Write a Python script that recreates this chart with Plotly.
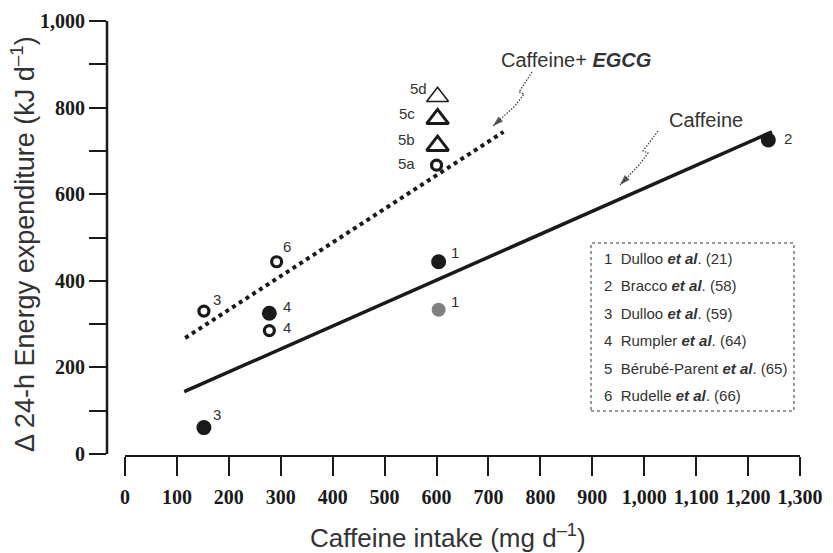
import plotly.graph_objects as go

# ---------------- data ----------------
# Caffeine alone (filled black circles)
caf_study = ['1', '2', '3', '4']
caf_x = [604, 1239, 152, 278]
caf_y = [444, 725, 61, 325]

# Study 1, second value (grey circle)
grey_study = ['1']
grey_x = [604]
grey_y = [333]

# Caffeine + EGCG (open circles)
egcg_study = ['3', '4', '6', '5a']
egcg_x = [152, 278, 292, 600]
egcg_y = [330, 285, 444, 667]

# Caffeine + EGCG, study 5 dose steps (open triangles)
tri_study = ['5b', '5c', '5d']
tri_x = [602, 602, 602]
tri_y = [712, 774, 825]

# Regression lines
caf_fit_x = [114, 1246]
caf_fit_y = [144, 744]
egcg_fit_x = [116, 729]
egcg_fit_y = [268, 744]

# Axis ticks
x_ticks = list(range(0, 1301, 100))
y_ticks = list(range(0, 1001, 200))
y_minor = list(range(100, 1000, 200))

# Legend box contents
study_nums = ['1', '2', '3', '4', '5', '6']
study_authors = ['Dulloo', 'Bracco', 'Dulloo', 'Rumpler', 'Bérubé-Parent', 'Rudelle']
study_refs = ['21', '58', '59', '64', '65', '66']

# ---------------- layout geometry ----------------
W, H = 833, 553
ML, MR, MT, MB = 107, 28, 18, 97
PW, PH = W - ML - MR, H - MT - MB
XR = [-34.67, -34.67 + PW / 0.51923]
YR = [1000 + 3 / 0.433 - PH / 0.433, 1000 + 3 / 0.433]


def px2x(p):
    return XR[0] + (p - ML) / PW * (XR[1] - XR[0])


def py2y(p):
    return YR[1] - (p - MT) / PH * (YR[1] - YR[0])


def ppx(p):
    return (p - ML) / PW


def ppy(p):
    return (MT + PH - p) / PH


INK = '#1a1a1a'
TXT = '#333333'
SANS = 'Liberation Sans, Arial, sans-serif'
SERIF = 'Liberation Serif, Times New Roman, serif'

fig = go.Figure()

# regression lines
fig.add_trace(go.Scatter(x=caf_fit_x, y=caf_fit_y, mode='lines',
                         line=dict(color=INK, width=3.5), hoverinfo='skip'))
fig.add_trace(go.Scatter(x=egcg_fit_x, y=egcg_fit_y, mode='lines',
                         line=dict(color=INK, width=4, dash='4px,4px'), hoverinfo='skip'))

# callout arrows (dotted with a zig-zag)
arrows_px = [
    [(658, 131), (643, 151), (648, 153), (639, 165), (620, 185)],
    [(532, 72), (519, 92), (524, 94), (515, 106), (493, 126)],
]
for pts in arrows_px:
    ax = [px2x(p[0]) for p in pts]
    ay = [py2y(p[1]) for p in pts]
    fig.add_trace(go.Scatter(
        x=ax, y=ay, mode='lines+markers',
        line=dict(color=TXT, width=1.2, dash='1.5px,1.5px'),
        marker=dict(symbol='arrow', angleref='previous',
                    size=[0] * (len(pts) - 1) + [11], color=INK, line=dict(width=0)),
        hoverinfo='skip'))

# markers
fig.add_trace(go.Scatter(x=caf_x, y=caf_y, mode='markers',
                         marker=dict(size=15, color=INK, line=dict(width=0))))
fig.add_trace(go.Scatter(x=grey_x, y=grey_y, mode='markers',
                         marker=dict(size=14, color='#808080', line=dict(width=0))))
fig.add_trace(go.Scatter(x=egcg_x, y=egcg_y, mode='markers',
                         marker=dict(size=10, color='white', line=dict(width=3.2, color=INK))))
fig.add_trace(go.Scatter(x=tri_x, y=tri_y, mode='markers',
                         marker=dict(symbol='triangle-up', size=19, color='white',
                                     line=dict(width=[3, 3, 1.5], color=INK))))

annotations = []


def label(xs, ys, names, offsets):
    for xv, yv, nm in zip(xs, ys, names):
        dx, dy = offsets[nm]
        annotations.append(dict(x=xv, y=yv, xref='x', yref='y', text=nm, showarrow=False,
                                xshift=dx, yshift=-dy, xanchor='center', yanchor='middle',
                                font=dict(family=SANS, size=15, color=TXT)))


label(caf_x, caf_y, caf_study, {'1': (16, -9), '2': (20, -2), '3': (13, -13), '4': (18, -7)})
label(grey_x, grey_y, grey_study, {'1': (16, -8)})
label(egcg_x, egcg_y, egcg_study, {'3': (13, -12), '4': (18, -3), '6': (10, -15), '5a': (-30, -2)})
label(tri_x, tri_y, tri_study, {'5b': (-31, -6), '5c': (-31, -5), '5d': (-19, -8)})

# line labels
annotations.append(dict(x=ppx(499), y=ppy(60), xref='paper', yref='paper', showarrow=False,
                        xanchor='left', yanchor='middle',
                        text='Caffeine+ <b><i>EGCG</i></b>',
                        font=dict(family=SANS, size=20, color=TXT)))
annotations.append(dict(x=ppx(667), y=ppy(120), xref='paper', yref='paper', showarrow=False,
                        xanchor='left', yanchor='middle', text='Caffeine',
                        font=dict(family=SANS, size=20, color=TXT)))

# legend box text
leg_y = [258, 285.5, 313, 340.5, 368, 395.5]
for n, a, r, yp in zip(study_nums, study_authors, study_refs, leg_y):
    annotations.append(dict(x=ppx(602), y=ppy(yp), xref='paper', yref='paper', showarrow=False,
                            xanchor='left', yanchor='middle',
                            text=f'{n}\u00a0\u00a0{a} <b><i>et al</i></b>. ({r})',
                            font=dict(family=SANS, size=15, color=TXT)))

# axis titles
annotations.append(dict(x=ppx(448), y=ppy(536), xref='paper', yref='paper', showarrow=False,
                        xanchor='center', yanchor='middle',
                        text='Caffeine intake (mg d<sup>–1</sup>)',
                        font=dict(family=SANS, size=26, color=TXT)))
annotations.append(dict(x=ppx(23), y=ppy(244), xref='paper', yref='paper', showarrow=False,
                        xanchor='center', yanchor='middle', textangle=-90,
                        text='Δ 24-h Energy expenditure (kJ d<sup>–1</sup>)',
                        font=dict(family=SANS, size=27, color=TXT)))

shapes = [
    # x axis line (0 .. 1300)
    dict(type='line', xref='x', yref='paper', x0=0, x1=1300, y0=0, y1=0,
         line=dict(color=INK, width=2)),
    # y axis line (0 .. 1000)
    dict(type='line', xref='paper', yref='y', x0=0, x1=0, y0=0, y1=1000,
         line=dict(color=INK, width=2.5)),
    # legend box
    dict(type='rect', xref='paper', yref='paper', x0=ppx(591), x1=ppx(794),
         y0=ppy(411), y1=ppy(243), line=dict(color=TXT, width=1, dash='dot')),
]

fig.update_layout(
    width=W, height=H,
    margin=dict(l=ML, r=MR, t=MT, b=MB, autoexpand=False),
    paper_bgcolor='white', plot_bgcolor='white',
    showlegend=False,
    annotations=annotations,
    shapes=shapes,
    xaxis=dict(range=XR, tickvals=x_ticks, tickformat=',d', ticks='outside', ticklen=19,
               tickwidth=2, tickcolor=INK, showline=False, showgrid=False, zeroline=False,
               automargin=False, ticklabelstandoff=4,
               tickfont=dict(family=SERIF, size=20, color=INK, weight='bold')),
    yaxis=dict(range=YR, tickvals=y_ticks, tickformat=',d', ticks='outside', ticklen=17,
               tickwidth=2, tickcolor=INK, showline=False, showgrid=False, zeroline=False,
               automargin=False,
               tickfont=dict(family=SERIF, size=20, color=INK, weight='bold'),
               minor=dict(tickvals=y_minor, ticks='outside', ticklen=17, tickwidth=2,
                          tickcolor=INK, showgrid=False)),
)

fig.write_html('out.html',
               config={'displayModeBar': False},
               post_script="document.body.style.margin='0';"
                           "document.body.style.overflow='hidden';")
